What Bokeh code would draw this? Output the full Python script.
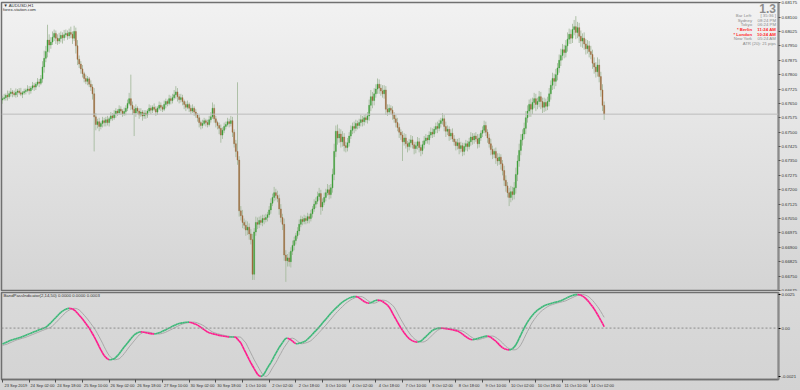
import numpy as np
from bokeh.plotting import figure
from bokeh.layouts import column
from bokeh.models import (ColumnDataSource, Range1d, FixedTicker, Label, Span,
                          PrintfTickFormatter)
from bokeh.embed import file_html
from bokeh.resources import INLINE

# ---------------- data (AUDUSD H1, 23 Sep 10:00 .. 14 Oct 11:00) ----------------
first_open = 0.67668
close = [
    # 23 Sep
    0.67675, 0.67680, 0.67692, 0.67685, 0.67701, 0.67710, 0.67702, 0.67695, 0.67708, 0.67715, 0.67706, 0.67698, 0.67705, 0.67712,
    # 24 Sep
    0.67718, 0.67725, 0.67716, 0.67730, 0.67742, 0.67735, 0.67750, 0.67762, 0.67755, 0.67778, 0.67840, 0.67885,
    0.67920, 0.67980, 0.67955, 0.67970, 0.67995, 0.68015, 0.67990, 0.67975, 0.67988, 0.68005, 0.67992, 0.68008,
    # 25 Sep
    0.68015, 0.68002, 0.68020, 0.68010, 0.67990, 0.68025, 0.67950, 0.67880, 0.67855, 0.67830, 0.67805, 0.67780,
    0.67765, 0.67778, 0.67750, 0.67735, 0.67700, 0.67580, 0.67540, 0.67555, 0.67530, 0.67545, 0.67560, 0.67550,
    # 26 Sep
    0.67565, 0.67550, 0.67570, 0.67585, 0.67575, 0.67595, 0.67610, 0.67600, 0.67620, 0.67610, 0.67595, 0.67608,
    0.67625, 0.67650, 0.67675, 0.67640, 0.67620, 0.67600, 0.67625, 0.67610, 0.67590, 0.67605, 0.67585, 0.67600,
    # 27 Sep
    0.67590, 0.67610, 0.67625, 0.67615, 0.67630, 0.67620, 0.67605, 0.67625, 0.67640, 0.67630, 0.67620, 0.67645,
    0.67660, 0.67650, 0.67675, 0.67665, 0.67680, 0.67695, 0.67710, 0.67685, 0.67670, 0.67680, 0.67660, 0.67645,
    # 30 Sep
    0.67630, 0.67645, 0.67625, 0.67610, 0.67625, 0.67605, 0.67590, 0.67575, 0.67550, 0.67535, 0.67545, 0.67560,
    0.67550, 0.67540, 0.67565, 0.67580, 0.67625, 0.67570, 0.67550, 0.67535, 0.67520, 0.67485, 0.67510, 0.67530,
    # 1 Oct
    0.67540, 0.67555, 0.67545, 0.67560, 0.67500, 0.67440, 0.67400, 0.67355, 0.67090, 0.67065, 0.67030, 0.67015,
    0.66990, 0.67005, 0.66970, 0.66940, 0.66760, 0.66980, 0.67030, 0.67020, 0.67040, 0.67030, 0.67050, 0.67045,
    # 2 Oct
    0.67055, 0.67070, 0.67095, 0.67130, 0.67160, 0.67185, 0.67170, 0.67155, 0.67100, 0.67055, 0.67020, 0.66860,
    0.66830, 0.66845, 0.66825, 0.66880, 0.66910, 0.66935, 0.66960, 0.66985, 0.67020, 0.67045, 0.67035, 0.67050,
    # 3 Oct
    0.67040, 0.67060, 0.67050, 0.67075, 0.67100, 0.67125, 0.67140, 0.67165, 0.67180, 0.67110, 0.67135, 0.67160,
    0.67185, 0.67200, 0.67175, 0.67210, 0.67280, 0.67400, 0.67505, 0.67470, 0.67490, 0.67450, 0.67475, 0.67430,
    # 4 Oct
    0.67420, 0.67445, 0.67480, 0.67510, 0.67530, 0.67520, 0.67545, 0.67535, 0.67550, 0.67565, 0.67555, 0.67575,
    0.67565, 0.67585, 0.67640, 0.67685, 0.67665, 0.67700, 0.67725, 0.67750, 0.67730, 0.67715, 0.67700, 0.67720,
    # 7 Oct
    0.67620, 0.67605, 0.67625, 0.67615, 0.67590, 0.67570, 0.67550, 0.67525, 0.67500, 0.67485, 0.67450, 0.67470,
    0.67440, 0.67425, 0.67445, 0.67460, 0.67435, 0.67415, 0.67430, 0.67450, 0.67420, 0.67405, 0.67435, 0.67455,
    # 8 Oct
    0.67470, 0.67460, 0.67485, 0.67500, 0.67490, 0.67515, 0.67530, 0.67520, 0.67545, 0.67560, 0.67570, 0.67530,
    0.67505, 0.67515, 0.67480, 0.67495, 0.67465, 0.67450, 0.67430, 0.67445, 0.67415, 0.67430, 0.67400, 0.67425,
    # 9 Oct
    0.67440, 0.67425, 0.67450, 0.67475, 0.67460, 0.67480, 0.67465, 0.67440, 0.67470, 0.67495, 0.67510, 0.67535,
    0.67500, 0.67470, 0.67440, 0.67410, 0.67385, 0.67400, 0.67365, 0.67350, 0.67370, 0.67335, 0.67300, 0.67250,
    # 10 Oct
    0.67220, 0.67185, 0.67160, 0.67190, 0.67175, 0.67210, 0.67280, 0.67350, 0.67405, 0.67460, 0.67490, 0.67520,
    0.67575, 0.67610, 0.67645, 0.67620, 0.67655, 0.67675, 0.67645, 0.67660, 0.67685, 0.67660, 0.67630, 0.67655,
    # 11 Oct
    0.67635, 0.67660, 0.67700, 0.67745, 0.67780, 0.67765, 0.67800, 0.67835, 0.67875, 0.67900, 0.67930, 0.67915,
    0.67950, 0.67985, 0.68010, 0.67990, 0.68035, 0.68050, 0.68020, 0.68045, 0.68000, 0.67975, 0.67990, 0.67960,
    # 14 Oct
    0.67935, 0.67950, 0.67920, 0.67905, 0.67860, 0.67840, 0.67815, 0.67850, 0.67790, 0.67720, 0.67640, 0.67594,
]

# wick lengths above / below the body, in pips
up_wick_pips = [
    1.5, 2, 1, 2.5, 1.5, 2, 1, 1.5, 2, 1, 1.5, 2.5, 1, 1.5,
    1, 2, 1.5, 1, 2, 1.5, 1, 2, 1.5, 2, 3, 4, 3, 8, 3, 2.5, 3, 2, 1.5, 2, 3, 2, 1.5, 2.5,
    2, 1.5, 2, 3, 1.5, 3, 2, 3, 2, 1.5, 2, 1, 2, 1.5, 1, 2, 1.5, 3, 2, 1.5, 2, 1, 2, 1.5,
    1.5, 2, 1, 2, 1.5, 2, 1.5, 1, 2, 1.5, 1, 2, 1.5, 2, 3, 12.5, 2, 1.5, 2, 1, 1.5, 2, 1, 1.5,
    1.5, 1, 2, 1.5, 1, 2, 1.5, 1, 2, 1.5, 1, 2, 1.5, 1, 2, 1.5, 2, 2.5, 3, 2, 1.5, 2, 1.5, 1,
    1.5, 2, 1, 1.5, 2, 1, 1.5, 1, 1.5, 1, 2, 1.5, 1, 1.5, 2, 2.5, 3, 2, 1.5, 1, 1.5, 2, 1.5, 2,
    1.5, 2, 1.5, 2.5, 2, 1.5, 2, 36, 2, 2.5, 3, 2, 2.5, 3, 2, 2.5, 3, 2, 3, 2.5, 2, 2.5, 2, 2,
    2, 1.5, 2, 2.5, 2, 3, 2, 2.5, 2, 2.5, 2, 3, 2.5, 2, 3, 2, 2.5, 2, 1.5, 2, 2.5, 2, 1.5, 2,
    1.5, 2, 1.5, 2, 1.5, 2.5, 2, 2.5, 3, 2, 2, 2.5, 2, 3, 2.5, 2, 3, 4, 3, 3.5, 3, 2.5, 3, 2,
    2, 2.5, 2, 2.5, 2, 2.5, 2, 1.5, 2, 2.5, 2, 1.5, 2, 2, 3, 3.5, 2.5, 3, 2.5, 3, 2.5, 2, 3, 2.5,
    2, 2.5, 2, 1.5, 2, 1.5, 2, 2.5, 2, 1.5, 2, 2.5, 2, 1.5, 2, 2.5, 2, 1.5, 2, 2.5, 2, 1.5, 2, 2.5,
    2, 1.5, 2, 2.5, 2, 1.5, 2, 2.5, 2, 1.5, 3, 2, 2.5, 2, 1.5, 2, 2.5, 2, 1.5, 2, 2.5, 2, 1.5, 2,
    2, 1.5, 2, 2.5, 2, 1.5, 2, 2.5, 2, 1.5, 2, 2.5, 2, 1.5, 2, 2.5, 2, 1.5, 2, 2.5, 2, 1.5, 2, 2.5,
    2.5, 2, 2.5, 3, 2.5, 3, 3.5, 3, 3.5, 3, 2.5, 3, 3.5, 3, 2.5, 3, 2.5, 3, 2.5, 2, 3, 2.5, 2, 2.5,
    2, 2.5, 3, 2.5, 3, 2.5, 3, 2.5, 3, 3.5, 3, 2.5, 3, 3.5, 3, 2.5, 3, 3.5, 5.5, 3, 2.5, 3, 2.5, 3,
    2.5, 3, 2.5, 3, 2.5, 3, 2.5, 4, 3, 2.5, 3, 2,
]
down_wick_pips = [
    2, 1, 1.5, 2, 1, 1.5, 2, 1, 1.5, 2.5, 1, 1, 2, 1,
    1.5, 1, 2, 1.5, 1, 2, 1.5, 1, 2, 1, 2, 3, 2, 3, 4, 2, 1.5, 2, 3, 2, 1.5, 2, 3, 1.5,
    1.5, 2, 1.5, 2, 3, 1.5, 4, 3, 2, 2.5, 2, 2, 1.5, 2, 1.5, 2, 3, 18, 3, 2, 2.5, 1.5, 2, 2,
    2, 1.5, 2, 1, 1.5, 1, 2, 1.5, 1, 2, 1.5, 1, 2, 1.5, 1, 2.5, 3, 12, 2, 1.5, 2, 1, 2.5, 1.5,
    2, 1.5, 1, 2, 1.5, 1, 2, 1.5, 1, 2, 1.5, 1, 2, 1.5, 1, 2, 1.5, 1, 2, 2.5, 2, 1.5, 2, 2.5,
    2, 1, 2, 1.5, 1, 2, 1.5, 2, 2.5, 2, 1.5, 1, 2, 1.5, 1, 1.5, 1, 2, 2.5, 2, 3, 4, 2, 1.5,
    1.5, 1, 2, 1.5, 2.5, 2, 3, 2.5, 3, 2.5, 3, 2, 3, 2.5, 3, 2.5, 3, 3, 2, 2.5, 2, 1.5, 2, 2.5,
    1.5, 2, 1.5, 2, 1.5, 2, 2.5, 2, 3, 2.5, 3, 3, 11, 3, 2.5, 3, 2, 2.5, 2, 1.5, 2, 1.5, 2, 1.5,
    2, 1.5, 2.5, 1.5, 2, 1.5, 2, 1.5, 2, 4, 2, 1.5, 2, 1.5, 2.5, 2, 2.5, 3, 3, 3.5, 2.5, 3, 2.5, 3,
    2.5, 2, 2, 1.5, 2, 2.5, 1.5, 2, 1.5, 2, 2.5, 2, 1.5, 2, 2.5, 3, 4, 2.5, 2, 2.5, 3, 2.5, 2, 2.5,
    3, 2, 1.5, 2, 2.5, 2, 2.5, 2, 3, 2.5, 10, 2, 2.5, 3, 2, 2.5, 2, 3, 2.5, 2, 2.5, 3, 2, 2,
    1.5, 2, 2.5, 1.5, 2, 1.5, 2, 2.5, 1.5, 2, 2, 2.5, 3, 2, 2.5, 2, 1.5, 2, 2.5, 2, 3, 2, 2.5, 2,
    2, 2.5, 1.5, 2, 2.5, 2, 1.5, 2.5, 2, 1.5, 2, 1.5, 2, 2.5, 2, 3, 2.5, 2, 3, 2.5, 2, 3, 2.5, 3,
    3, 2.5, 4.5, 2.5, 3, 2.5, 3, 3.5, 3, 2.5, 3, 2.5, 3, 2.5, 3, 4, 2.5, 3, 3.5, 2.5, 3, 4, 3, 2.5,
    2.5, 2, 2.5, 3, 2.5, 4, 2.5, 3, 2.5, 3, 2.5, 3, 2.5, 3, 2.5, 3, 2.5, 3, 3.5, 3, 3.5, 3, 3.5, 3,
    3, 2.5, 3, 2.5, 3, 3.5, 3, 2.5, 3, 3.5, 3, 3,
]

# BandPassIndicator(2,14,50): main line and signal line, in units of 0.0001
bandpass_e4 = [
    -11.8, -11.2, -10.7, -10.1, -9.6, -9.0, -8.6, -8.3, -7.9, -7.5,
    -7.2, -6.8, -6.3, -5.8, -5.3, -4.8, -4.3, -3.8, -3.3, -2.8,
    -2.3, -1.8, -1.3, -0.8, -0.4, 0.1, 0.6, 1.6, 2.8, 4.0,
    5.3, 6.6, 7.9, 9.2, 10.5, 11.7, 12.6, 13.4, 14.0, 14.5,
    14.7, 14.6, 14.2, 13.5, 12.4, 11.0, 9.6, 8.2, 6.7, 5.1,
    3.4, 1.7, 0.0, -2.0, -4.2, -6.4, -8.8, -11.2, -13.8, -16.2,
    -18.5, -20.4, -21.8, -22.9, -23.5, -23.5, -23.2, -22.8, -21.8, -20.5,
    -19.0, -17.4, -15.7, -14.0, -12.5, -11.0, -9.5, -8.0, -6.5, -5.1,
    -4.2, -3.5, -3.0, -2.8, -2.9, -3.1, -3.4, -3.7, -3.9, -4.1,
    -4.3, -4.4, -4.2, -3.9, -3.5, -3.0, -2.4, -1.8, -1.2, -0.6,
    0.0, 0.7, 1.3, 1.9, 2.5, 3.0, 3.4, 3.7, 3.9, 4.1,
    4.3, 4.4, 4.4, 4.2, 3.8, 3.3, 2.8, 2.2, 1.5, 0.6,
    -0.3, -1.2, -2.1, -2.9, -3.4, -3.8, -4.2, -4.5, -4.8, -5.1,
    -5.4, -5.7, -5.9, -6.1, -6.3, -6.5, -6.6, -6.6, -6.6, -6.6,
    -6.8, -8.2, -9.6, -11.0, -13.5, -16.0, -18.5, -21.0, -23.5, -25.8,
    -28.0, -30.2, -32.3, -34.3, -35.5, -36.0, -35.4, -34.0, -31.8, -29.6,
    -27.6, -25.7, -23.4, -21.0, -18.8, -16.5, -14.4, -12.6, -10.8, -9.0,
    -7.6, -7.5, -7.9, -8.7, -9.7, -10.8, -11.6, -11.6, -11.3, -11.0,
    -10.6, -10.1, -9.4, -8.3, -7.1, -5.9, -4.6, -3.2, -1.9, -0.6,
    0.8, 2.2, 3.7, 5.2, 6.6, 8.1, 9.6, 11.0, 12.3, 13.6,
    14.8, 16.0, 17.2, 18.4, 19.3, 20.2, 21.0, 21.7, 22.3, 22.8,
    23.2, 23.4, 23.5, 23.2, 22.5, 21.6, 20.6, 19.8, 19.1, 18.6,
    18.5, 18.8, 19.4, 20.1, 20.6, 20.8, 20.7, 20.4, 19.8, 19.0,
    18.0, 17.0, 15.6, 13.5, 11.2, 8.8, 6.6, 4.4, 2.3, 0.2,
    -1.7, -3.5, -5.2, -6.6, -7.8, -8.8, -9.5, -10.0, -10.3, -10.4,
    -10.2, -9.6, -8.7, -7.5, -6.3, -5.1, -3.9, -2.7, -1.7, -1.0,
    -0.5, -0.2, 0.0, 0.0, -0.1, -0.3, -0.4, -0.6, -0.8, -1.0,
    -1.3, -1.6, -1.9, -2.2, -2.8, -3.6, -4.5, -5.5, -6.4, -7.2,
    -8.0, -8.5, -8.7, -8.5, -8.1, -7.7, -7.4, -7.0, -6.6, -6.2,
    -6.0, -5.9, -6.2, -6.9, -7.8, -8.7, -9.8, -11.0, -12.3, -13.6,
    -14.6, -15.3, -15.8, -16.1, -16.2, -16.0, -15.3, -14.2, -12.4, -10.2,
    -7.6, -5.0, -2.5, -0.1, 2.4, 4.5, 6.3, 8.0, 9.6, 11.0,
    12.2, 13.3, 14.2, 15.1, 15.9, 16.6, 17.1, 17.5, 17.9, 18.3,
    18.7, 19.0, 19.3, 19.6, 19.9, 20.3, 20.9, 21.5, 22.1, 22.7,
    23.3, 23.8, 24.3, 24.7, 24.9, 25.0, 24.8, 24.4, 23.8, 23.0,
    21.9, 20.6, 19.2, 17.6, 16.0, 14.2, 12.2, 10.1, 8.0, 5.8,
    3.5, 1.0,
]
signal_e4 = [
    -12.9, -12.5, -12.2, -11.8, -11.2, -10.7, -10.1, -9.6, -9.0, -8.6,
    -8.3, -7.9, -7.5, -7.2, -6.8, -6.3, -5.8, -5.3, -4.8, -4.3,
    -3.8, -3.3, -2.8, -2.3, -1.8, -1.3, -0.8, -0.4, 0.1, 0.6,
    1.6, 2.8, 4.0, 5.3, 6.6, 7.9, 9.2, 10.5, 11.7, 12.6,
    13.4, 14.0, 14.5, 14.7, 14.6, 14.2, 13.5, 12.4, 11.0, 9.6,
    8.2, 6.7, 5.1, 3.4, 1.7, 0.0, -2.0, -4.2, -6.4, -8.8,
    -11.2, -13.8, -16.2, -18.5, -20.4, -21.8, -22.9, -23.5, -23.5, -23.2,
    -22.8, -21.8, -20.5, -19.0, -17.4, -15.7, -14.0, -12.5, -11.0, -9.5,
    -8.0, -6.5, -5.1, -4.2, -3.5, -3.0, -2.8, -2.9, -3.1, -3.4,
    -3.7, -3.9, -4.1, -4.3, -4.4, -4.2, -3.9, -3.5, -3.0, -2.4,
    -1.8, -1.2, -0.6, 0.0, 0.7, 1.3, 1.9, 2.5, 3.0, 3.4,
    3.7, 3.9, 4.1, 4.3, 4.4, 4.4, 4.2, 3.8, 3.3, 2.8,
    2.2, 1.5, 0.6, -0.3, -1.2, -2.1, -2.9, -3.4, -3.8, -4.2,
    -4.5, -4.8, -5.1, -5.4, -5.7, -5.9, -6.1, -6.3, -6.5, -6.6,
    -6.6, -6.6, -6.6, -6.8, -8.2, -9.6, -11.0, -13.5, -16.0, -18.5,
    -21.0, -23.5, -25.8, -28.0, -30.2, -32.3, -34.3, -35.5, -36.0, -35.4,
    -34.0, -31.8, -29.6, -27.6, -25.7, -23.4, -21.0, -18.8, -16.5, -14.4,
    -12.6, -10.8, -9.0, -7.6, -7.5, -7.9, -8.7, -9.7, -10.8, -11.6,
    -11.6, -11.3, -11.0, -10.6, -10.1, -9.4, -8.3, -7.1, -5.9, -4.6,
    -3.2, -1.9, -0.6, 0.8, 2.2, 3.7, 5.2, 6.6, 8.1, 9.6,
    11.0, 12.3, 13.6, 14.8, 16.0, 17.2, 18.4, 19.3, 20.2, 21.0,
    21.7, 22.3, 22.8, 23.2, 23.4, 23.5, 23.2, 22.5, 21.6, 20.6,
    19.8, 19.1, 18.6, 18.5, 18.8, 19.4, 20.1, 20.6, 20.8, 20.7,
    20.4, 19.8, 19.0, 18.0, 17.0, 15.6, 13.5, 11.2, 8.8, 6.6,
    4.4, 2.3, 0.2, -1.7, -3.5, -5.2, -6.6, -7.8, -8.8, -9.5,
    -10.0, -10.3, -10.4, -10.2, -9.6, -8.7, -7.5, -6.3, -5.1, -3.9,
    -2.7, -1.7, -1.0, -0.5, -0.2, 0.0, 0.0, -0.1, -0.3, -0.4,
    -0.6, -0.8, -1.0, -1.3, -1.6, -1.9, -2.2, -2.8, -3.6, -4.5,
    -5.5, -6.4, -7.2, -8.0, -8.5, -8.7, -8.5, -8.1, -7.7, -7.4,
    -7.0, -6.6, -6.2, -6.0, -5.9, -6.2, -6.9, -7.8, -8.7, -9.8,
    -11.0, -12.3, -13.6, -14.6, -15.3, -15.8, -16.1, -16.2, -16.0, -15.3,
    -14.2, -12.4, -10.2, -7.6, -5.0, -2.5, -0.1, 2.4, 4.5, 6.3,
    8.0, 9.6, 11.0, 12.2, 13.3, 14.2, 15.1, 15.9, 16.6, 17.1,
    17.5, 17.9, 18.3, 18.7, 19.0, 19.3, 19.6, 19.9, 20.3, 20.9,
    21.5, 22.1, 22.7, 23.3, 23.8, 24.3, 24.7, 24.9, 25.0, 24.8,
    24.4, 23.8, 23.0, 21.9, 20.6, 19.2, 17.6, 16.0, 14.2, 12.2,
    10.1, 8.0,
]

price_ticks = [0.66675, 0.66750, 0.66825, 0.66900, 0.66975, 0.67050, 0.67125, 0.67200,
               0.67275, 0.67350, 0.67425, 0.67500, 0.67575, 0.67650, 0.67725, 0.67800,
               0.67875, 0.67950, 0.68025, 0.68100, 0.68175]
time_tick_bars = [0, 16, 32, 48, 64, 80, 96, 112, 128, 144, 160, 176, 192, 208, 224,
                  240, 256, 272, 288, 304, 320, 336, 352]
time_tick_labels = ["23 Sep 2019", "24 Sep 02:00", "24 Sep 18:00", "25 Sep 10:00",
                    "26 Sep 02:00", "26 Sep 18:00", "27 Sep 10:00", "30 Sep 02:00",
                    "30 Sep 18:00", "1 Oct 10:00", "2 Oct 02:00", "2 Oct 18:00",
                    "3 Oct 10:00", "4 Oct 02:00", "4 Oct 18:00", "7 Oct 10:00",
                    "8 Oct 02:00", "8 Oct 18:00", "9 Oct 10:00", "10 Oct 02:00",
                    "10 Oct 18:00", "11 Oct 10:00", "14 Oct 02:00"]
ind_ticks = [0.0025, 0.0, -0.0036]
ind_tick_labels = ["0.0025", "0.00", "-0.0021"]

info_labels = ["Bar Left:", "Sydney", "Tokyo", "* Berlin", "* London", "New York"]
info_values = ["[ 35:36 ]", "08:24 PM", "06:24 PM", "11:24 AM", "10:24 AM", "05:24 AM"]
info_red = [False, False, False, True, True, False]
atr_text = "ATR (20): 21 pips"
big_number = "1.3"

n = len(close)
for name, arr in [("up", up_wick_pips), ("dn", down_wick_pips),
                  ("bp", bandpass_e4), ("sig", signal_e4)]:
    if len(arr) != n:
        raise SystemExit(f"length mismatch {name}: {len(arr)} vs {n}")

# ---------------- derived ----------------
c = np.array(close)
o = np.array([first_open] + close[:-1])
hi = np.maximum(o, c) + np.array(up_wick_pips) * 1e-4
lo = np.minimum(o, c) - np.array(down_wick_pips) * 1e-4
idx = np.arange(n)
bull = c >= o
body_col = np.where(bull, "#3f9f3a", "#9c6a3c")
bot = np.minimum(o, c)
top = np.maximum(o, c)
top = np.where(top - bot < 0.00002, bot + 0.00002, top)

FONT = "Liberation Sans"
TXT = "4.3px"
XTXT = "4px"

# ---------------- main price panel ----------------
p1 = figure(width=800, height=291, x_range=Range1d(-0.6, 465.6),
            y_range=Range1d(0.66675, 0.68176), y_axis_location="right",
            x_axis_location=None, output_backend="svg", toolbar_location=None,
            min_border_left=1, min_border_top=2, min_border_bottom=1, min_border_right=20,
            styles={"background": "linear-gradient(to bottom, #f2f2f2, #d4d4d4)"})
p1.background_fill_alpha = 0
p1.border_fill_alpha = 0
p1.grid.visible = False
p1.outline_line_color = "#707070"
p1.outline_line_width = 1.5

src = ColumnDataSource(dict(x=idx, hi=hi, lo=lo, top=top, bot=bot, col=body_col))
p1.segment("x", "hi", "x", "lo", source=src, line_color="#a7bba0", line_width=1, line_alpha=0.9)
p1.vbar(x="x", width=0.6, top="top", bottom="bot", source=src, fill_color="col",
        line_color="col", line_width=0.4)

p1.add_layout(Span(location=close[-1], dimension="width", line_color="#bcbcbc", line_width=1))

ya = p1.yaxis[0]
ya.ticker = FixedTicker(ticks=price_ticks)
ya.formatter = PrintfTickFormatter(format="%.5f")
ya.major_label_text_font_size = TXT
ya.major_label_text_font = FONT
ya.major_label_text_color = "#303030"
ya.major_tick_out = 2
ya.major_tick_in = 0
ya.minor_tick_out = 0
ya.minor_tick_in = 0
ya.major_label_standoff = 1
ya.axis_line_color = "#8a8a8a"
ya.axis_line_width = 2
ya.major_tick_line_color = "#505050"

def px2x(px):
    return (px - 1) / 1.671 - 0.6

def py2price(py):
    return 0.68186 - py * 0.00005208

p1.add_layout(Label(x=px2x(781.5), y=close[-1], text=f"{close[-1]:.5f}",
                    text_font=FONT, text_font_size=TXT, text_color="white",
                    text_baseline="middle", text_align="left",
                    background_fill_color="black", background_fill_alpha=1.0))

p1.add_layout(Label(x=px2x(3), y=py2price(4.5), text="\u25bc AUDUSD,H1", text_font=FONT,
                    text_font_size=TXT, text_color="#303030", text_baseline="middle"))
p1.add_layout(Label(x=px2x(2.5), y=py2price(9), text="forex-station.com", text_font=FONT,
                    text_font_size=TXT, text_color="#303030", text_baseline="middle"))

p1.add_layout(Label(x=px2x(777.5), y=py2price(7.5), text=big_number, text_font=FONT,
                    text_font_size="12px", text_font_style="bold", text_color="#8c8c8c",
                    text_baseline="middle", text_align="right"))
row_y = [15, 19.6, 24.2, 28.9, 33.6, 38.3]
for lab, val, red, ry in zip(info_labels, info_values, info_red, row_y):
    col = "#ff2a2a" if red else "#8a8a8a"
    style = "bold" if red else "normal"
    p1.add_layout(Label(x=px2x(753.5), y=py2price(ry), text=lab, text_font=FONT,
                        text_font_size=TXT, text_color=col, text_font_style=style,
                        text_baseline="middle", text_align="right"))
    p1.add_layout(Label(x=px2x(777.5), y=py2price(ry), text=val, text_font=FONT,
                        text_font_size=TXT, text_color=col, text_font_style=style,
                        text_baseline="middle", text_align="right"))
p1.add_layout(Label(x=px2x(777.5), y=py2price(43.2), text=atr_text, text_font=FONT,
                    text_font_size=TXT, text_color="#8a8a8a",
                    text_baseline="middle", text_align="right"))

# ---------------- indicator panel ----------------
p2 = figure(width=800, height=99, x_range=p1.x_range,
            y_range=Range1d(-0.003822, 0.002646), y_axis_location="right",
            output_backend="svg", toolbar_location=None,
            min_border_left=1, min_border_top=1, min_border_bottom=10, min_border_right=20,
            styles={"background": "linear-gradient(to bottom, #dadada, #d3d3d3)"})
p2.background_fill_alpha = 0
p2.border_fill_alpha = 0
p2.grid.visible = False
p2.outline_line_color = "#707070"
p2.outline_line_width = 1.5

bp = np.array(bandpass_e4) * 1e-4
sg = np.array(signal_e4) * 1e-4
p2.add_layout(Span(location=0.0, dimension="width", line_color="#8c8c8c",
                   line_dash="2 2", line_width=1))
p2.line(idx, sg, line_color="#a8a8a8", line_width=1)
rising = bp[1:] >= bp[:-1]
seg = ColumnDataSource(dict(x0=idx[:-1], y0=bp[:-1], x1=idx[1:], y1=bp[1:],
                            col=np.where(rising, "#3cb878", "#ff1a8c")))
p2.segment("x0", "y0", "x1", "y1", source=seg, line_color="col", line_width=1.6)

ya2 = p2.yaxis[0]
ya2.ticker = FixedTicker(ticks=ind_ticks)
ya2.major_label_overrides = {t: s for t, s in zip(ind_ticks, ind_tick_labels)}
ya2.major_label_text_font_size = TXT
ya2.major_label_text_font = FONT
ya2.major_label_text_color = "#303030"
ya2.major_tick_out = 2
ya2.major_tick_in = 0
ya2.minor_tick_out = 0
ya2.minor_tick_in = 0
ya2.major_label_standoff = 1
ya2.axis_line_color = "#8a8a8a"
ya2.axis_line_width = 2

label_centers = [b + 8 for b in time_tick_bars]
xa = p2.xaxis[0]
xa.ticker = FixedTicker(ticks=label_centers, minor_ticks=time_tick_bars)
xa.major_label_overrides = {cpos: s for cpos, s in zip(label_centers, time_tick_labels)}
xa.major_label_text_font_size = XTXT
xa.major_label_text_font = FONT
xa.major_label_text_color = "#303030"
xa.major_tick_out = 0
xa.major_tick_in = 0
xa.minor_tick_out = 3
xa.minor_tick_in = 0
xa.minor_tick_line_color = "#505050"
xa.major_label_standoff = 0
xa.axis_line_color = "#707070"
xa.axis_line_width = 1.5

p2.add_layout(Label(x=px2x(3), y=0.002646 - 3.5 * 0.0000735,
                    text="BandPassIndicator(2,14,50) 0.0000 0.0000 0.0003",
                    text_font=FONT, text_font_size=TXT, text_color="#303030",
                    text_baseline="middle"))

layout = column(p1, p2, spacing=0)
open("out.html", "w").write(file_html(layout, INLINE))
